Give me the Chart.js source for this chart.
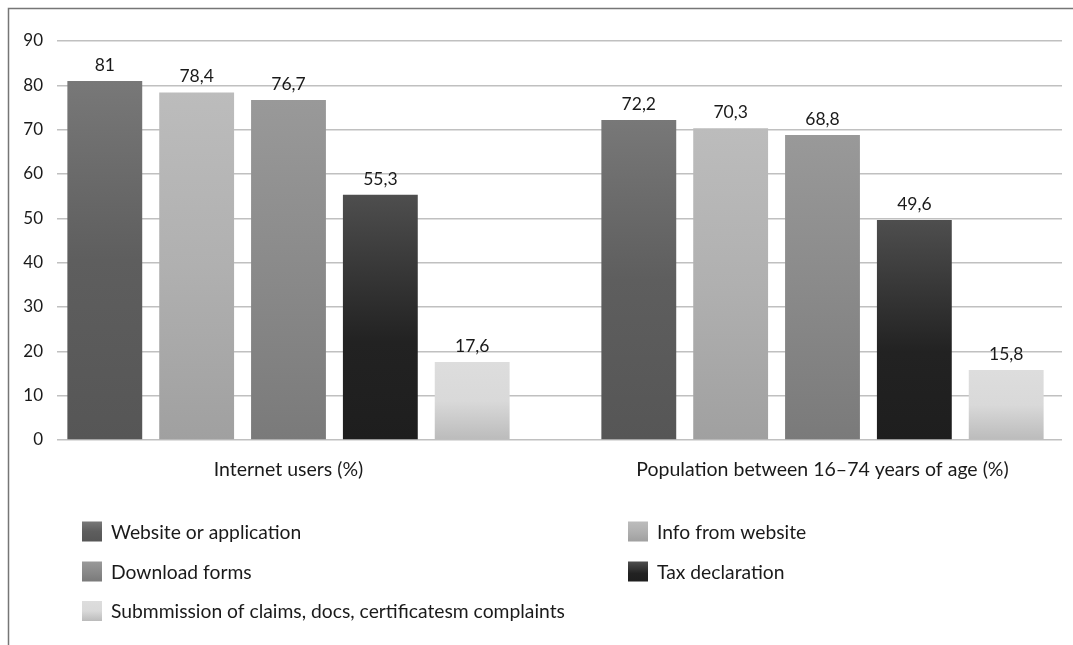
<!DOCTYPE html>
<html>
<head>
<meta charset="utf-8">
<script src="https://cdn.jsdelivr.net/npm/chart.js@4.4.1/dist/chart.umd.min.js"></script>
<style>
  html, body { margin: 0; padding: 0; background: #ffffff; }
  #wrap { position: relative; width: 1073px; height: 645px; }
</style>
</head>
<body>
<div id="wrap"><canvas id="c" width="1073" height="645"></canvas></div>
<script>
// ---- data ----
const categories = ['Internet users (%)', 'Population between 16\u201374 years of age (%)'];
const seriesNames = [
  'Website or application',
  'Info from website',
  'Download forms',
  'Tax declaration',
  'Submmission of claims, docs, certificatesm complaints'
];
const websiteOrApplication = [81, 72.2];
const infoFromWebsite = [78.4, 70.3];
const downloadForms = [76.7, 68.8];
const taxDeclaration = [55.3, 49.6];
const submissionOfClaims = [17.6, 15.8];
const yTicks = [0, 10, 20, 30, 40, 50, 60, 70, 80, 90];

const seriesValues = [websiteOrApplication, infoFromWebsite, downloadForms, taxDeclaration, submissionOfClaims];

// gradient stops per series (top -> bottom)
const seriesGradients = [
  [[0, '#787878'], [0.5, '#5e5e5e'], [1, '#565656']],
  [[0, '#bcbcbc'], [0.5, '#b0b0b0'], [1, '#a0a0a0']],
  [[0, '#999999'], [0.5, '#8a8a8a'], [1, '#7a7a7a']],
  [[0, '#4e4e4e'], [0.6, '#222222'], [1, '#1e1e1e']],
  [[0, '#dddddd'], [0.5, '#d9d9d9'], [1, '#bbbbbb']]
];

const FONT = 'Lato, "Open Sans", sans-serif';
const TEXT = '#1a1a1a';

function makeGradient(ctx, stops, top, bottom) {
  const g = ctx.createLinearGradient(0, top, 0, bottom);
  stops.forEach(s => g.addColorStop(s[0], s[1]));
  return g;
}

function barFill(si) {
  return function(context) {
    const chart = context.chart;
    const y = chart.scales.y;
    if (!chart.chartArea || !y || context.raw == null) return seriesGradients[si][1][1];
    const v = context.raw.y !== undefined ? context.raw.y : context.raw;
    const top = y.getPixelForValue(v);
    const base = y.getPixelForValue(0);
    if (!isFinite(top) || !isFinite(base) || base - top < 1) return seriesGradients[si][1][1];
    return makeGradient(chart.ctx, seriesGradients[si], top, base);
  };
}

const datasets = seriesNames.map((name, si) => ({
  label: name,
  data: seriesValues[si].map((v, i) => ({ x: i, y: v })),
  backgroundColor: barFill(si),
  borderWidth: 0,
  categoryPercentage: 0.86,
  barPercentage: 0.815
}));

const frameAndLabels = {
  id: 'frameAndLabels',
  beforeDraw(chart) {
    const ctx = chart.ctx;
    ctx.save();
    ctx.strokeStyle = '#767676';
    ctx.lineWidth = 1.5;
    ctx.beginPath();
    ctx.moveTo(8.5, 645);
    ctx.lineTo(8.5, 8.5);
    ctx.lineTo(1073, 8.5);
    ctx.stroke();
    ctx.restore();
  },
  afterDatasetsDraw(chart) {
    const ctx = chart.ctx;
    ctx.save();
    ctx.font = '17.5px ' + FONT;
    ctx.fillStyle = TEXT;
    ctx.textAlign = 'center';
    ctx.textBaseline = 'alphabetic';
    chart.data.datasets.forEach((ds, di) => {
      const meta = chart.getDatasetMeta(di);
      meta.data.forEach((el, i) => {
        const v = ds.data[i].y;
        ctx.fillText(String(v).replace('.', ','), el.x, el.y - 10);
      });
    });
    ctx.restore();
  },
  afterDraw(chart) {
    // two-column legend
    const ctx = chart.ctx;
    const colX = [82, 628];
    const rowY = [531.5, 571.5, 611];
    ctx.save();
    ctx.font = '19.3px ' + FONT;
    ctx.fillStyle = TEXT;
    ctx.textBaseline = 'middle';
    ctx.textAlign = 'left';
    chart.data.datasets.forEach((ds, di) => {
      const col = di % 2, row = Math.floor(di / 2);
      const bx = colX[col], cy = rowY[row];
      ctx.fillStyle = makeGradient(ctx, seriesGradients[di], cy - 10, cy + 10);
      ctx.fillRect(bx, cy - 10, 20, 20);
      ctx.fillStyle = TEXT;
      ctx.fillText(ds.label, bx + 29, cy + 1);
    });
    ctx.restore();
  }
};

new Chart(document.getElementById('c'), {
  type: 'bar',
  data: { datasets },
  options: {
    responsive: false,
    animation: false,
    devicePixelRatio: 1,
    layout: { padding: { top: 41, right: 11, left: 0, bottom: 0 } },
    plugins: {
      legend: { display: false },
      tooltip: { enabled: false }
    },
    scales: {
      x: {
        type: 'linear',
        offset: false,
        min: -0.4335,
        max: 1.4485,
        grid: { display: false, drawTicks: false, offset: false },
        border: { display: false },
        afterBuildTicks(axis) { axis.ticks = categories.map((c, i) => ({ value: i })); },
        afterFit(axis) { axis.height = 205; },
        ticks: {
          padding: 18,
          autoSkip: false,
          maxRotation: 0,
          color: TEXT,
          font: { family: FONT, size: 19.5 },
          callback: (v) => categories[v]
        }
      },
      y: {
        min: 0,
        max: 90,
        afterBuildTicks(axis) { axis.ticks = yTicks.map(v => ({ value: v })); },
        afterFit(axis) { axis.width = 57; },
        grid: { color: '#c0c0c0', lineWidth: 1.5, drawTicks: false },
        border: { display: false },
        ticks: {
          padding: 14,
          color: TEXT,
          font: { family: FONT, size: 17 }
        }
      }
    }
  },
  plugins: [frameAndLabels]
});
</script>
</body>
</html>
